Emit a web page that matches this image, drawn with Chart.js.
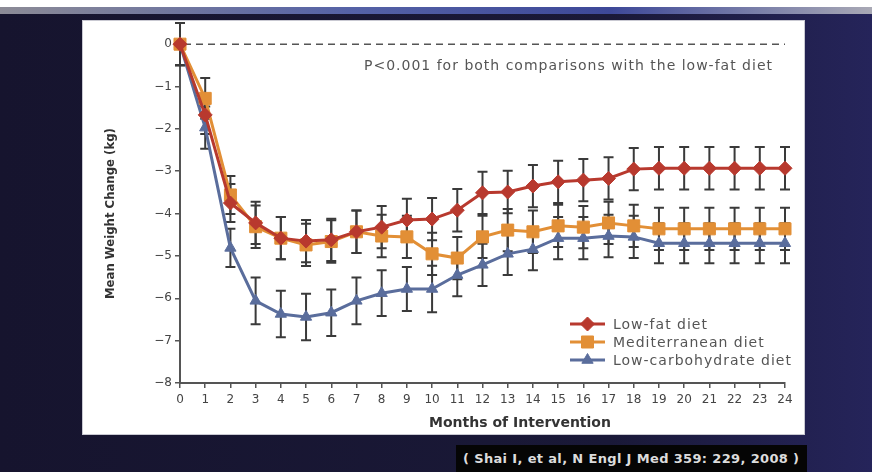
<!DOCTYPE html>
<html>
<head>
<meta charset="utf-8">
<script src="https://cdn.jsdelivr.net/npm/chart.js@4.4.1/dist/chart.umd.min.js"></script>
<style>
  body { margin: 0; width: 872px; height: 472px; overflow: hidden; position: relative;
         background: linear-gradient(90deg, #16142e 0%, #1a1938 70%, #25245a 100%); }
  .top-strip { position: absolute; left: 0; top: 0; width: 872px; height: 7px; background: #fff; }
  .top-bar { position: absolute; left: 0; top: 7px; width: 872px; height: 7px;
             background: linear-gradient(90deg, #8c8b96 0%, #5562a6 40%, #3d4898 70%, #a9a9b5 100%); }
  .panel { position: absolute; left: 82px; top: 20px; width: 723px; height: 415px; background: #fff;
           border: 1px solid #c9c9d2; box-sizing: border-box; }
  .cite { position: absolute; left: 456px; top: 445px; width: 351px; height: 27px; background: #050505;
          color: #dcdcdc; font: bold 13px "DejaVu Sans", sans-serif; letter-spacing: 0.35px; line-height: 27px;
          padding-left: 7px; box-sizing: border-box; white-space: nowrap; }
  #chart { position: absolute; left: 0; top: 0; }
</style>
</head>
<body>
<div class="top-strip"></div>
<div class="top-bar"></div>
<div class="panel"></div>
<div class="cite">( Shai I, et al, N Engl J Med 359: 229, 2008 )</div>
<canvas id="chart" width="872" height="472"></canvas>
<script>
const months = ['0', '1', '2', '3', '4', '5', '6', '7', '8', '9', '10', '11', '12',
                '13', '14', '15', '16', '17', '18', '19', '20', '21', '22', '23', '24'];
const yTicks = [0, -1, -2, -3, -4, -5, -6, -7, -8];

const lowFat = [0, -1.67, -3.75, -4.22, -4.58, -4.65, -4.62, -4.43, -4.32, -4.15, -4.13, -3.92, -3.51,
                -3.49, -3.35, -3.25, -3.21, -3.17, -2.95, -2.93, -2.93, -2.93, -2.93, -2.93, -2.93];
const mediterranean = [0, -1.28, -3.56, -4.31, -4.58, -4.74, -4.66, -4.43, -4.53, -4.55, -4.95, -5.05, -4.55,
                       -4.39, -4.43, -4.29, -4.32, -4.22, -4.29, -4.36, -4.36, -4.36, -4.36, -4.36, -4.36];
const lowCarb = [0, -1.97, -4.81, -6.06, -6.37, -6.44, -6.34, -6.06, -5.88, -5.78, -5.78, -5.45, -5.21,
                 -4.95, -4.84, -4.58, -4.58, -4.53, -4.55, -4.70, -4.70, -4.70, -4.70, -4.70, -4.70];

// error bar half widths (kg)
const lowFatErr = [0.5, 0.45, 0.45, 0.5, 0.5, 0.5, 0.5, 0.5, 0.5, 0.5, 0.5, 0.5, 0.5,
                   0.5, 0.5, 0.5, 0.5, 0.5, 0.5, 0.5, 0.5, 0.5, 0.5, 0.5, 0.5];
const mediterraneanErr = [0.5, 0.48, 0.45, 0.5, 0.5, 0.5, 0.5, 0.5, 0.5, 0.5, 0.5, 0.5, 0.5,
                          0.5, 0.5, 0.5, 0.5, 0.5, 0.5, 0.5, 0.5, 0.5, 0.5, 0.5, 0.5];
const lowCarbErr = [0.5, 0.5, 0.45, 0.55, 0.55, 0.55, 0.55, 0.55, 0.54, 0.52, 0.55, 0.5, 0.5,
                    0.5, 0.5, 0.5, 0.5, 0.5, 0.5, 0.47, 0.47, 0.47, 0.47, 0.47, 0.47];
const seriesErrors = [lowFatErr, mediterraneanErr, lowCarbErr];

const red = '#b8392e';
const orange = '#e28f36';
const blue = '#5a6d9c';
const axisColor = '#555';

const errorBars = {
    id: 'errorBars',
    beforeDatasetsDraw(chart) {
        const ctx = chart.ctx;
        const y = chart.scales.y;
        const area = chart.chartArea;
        ctx.save();
        // dashed zero line
        ctx.strokeStyle = '#555';
        ctx.lineWidth = 1.6;
        ctx.setLineDash([7, 5]);
        ctx.beginPath();
        ctx.moveTo(area.left + 4, y.getPixelForValue(0));
        ctx.lineTo(area.right, y.getPixelForValue(0));
        ctx.stroke();
        ctx.setLineDash([]);

        ctx.strokeStyle = '#3a3a3a';
        ctx.lineWidth = 2;
        chart.data.datasets.forEach(function(ds, i) {
            const meta = chart.getDatasetMeta(i);
            meta.data.forEach(function(pt, j) {
                const e = seriesErrors[i][j];
                const top = y.getPixelForValue(ds.data[j] + e);
                const bot = y.getPixelForValue(ds.data[j] - e);
                ctx.beginPath();
                ctx.moveTo(pt.x, top);
                ctx.lineTo(pt.x, bot);
                ctx.moveTo(pt.x - 5, top);
                ctx.lineTo(pt.x + 5, top);
                ctx.moveTo(pt.x - 5, bot);
                ctx.lineTo(pt.x + 5, bot);
                ctx.stroke();
            });
        });
        ctx.restore();
    }
};

const extras = {
    id: 'extras',
    afterDraw(chart) {
        const ctx = chart.ctx;
        const area = chart.chartArea;
        const y = chart.scales.y;
        ctx.save();

        // p-value note
        ctx.fillStyle = '#555';
        ctx.font = '14px "DejaVu Sans"';
        ctx.letterSpacing = '1px';
        ctx.textAlign = 'right';
        ctx.textBaseline = 'middle';
        ctx.fillText('P<0.001 for both comparisons with the low-fat diet', area.right - 12, y.getPixelForValue(0) + 22);
        ctx.letterSpacing = '0px';

        // x axis title
        ctx.fillStyle = '#333';
        ctx.font = 'bold 14px "DejaVu Sans"';
        ctx.textAlign = 'center';
        ctx.fillText('Months of Intervention', area.left + 340, area.bottom + 40);

        // y axis title, centred on the 0 .. -8 range
        ctx.save();
        ctx.translate(area.left - 69, (y.getPixelForValue(0) + y.getPixelForValue(-8)) / 2);
        ctx.rotate(-Math.PI / 2);
        ctx.font = 'bold 13px "DejaVu Sans Condensed"';
        ctx.fillText('Mean Weight Change (kg)', 0, 0);
        ctx.restore();

        // legend
        ctx.textAlign = 'left';
        ctx.font = '14px "DejaVu Sans"';
        ctx.letterSpacing = '1px';
        chart.data.datasets.forEach(function(ds, i) {
            const ly = area.bottom - 59 + i * 18;
            const lx = area.right - 215;
            ctx.strokeStyle = ds.borderColor;
            ctx.lineWidth = 3;
            ctx.beginPath();
            ctx.moveTo(lx, ly);
            ctx.lineTo(lx + 35, ly);
            ctx.stroke();
            ctx.fillStyle = ds.borderColor;
            ctx.lineWidth = 1;
            Chart.helpers.drawPoint(ctx, {pointStyle: ds.pointStyle, radius: ds.pointRadius, rotation: 0, borderWidth: 1}, lx + 17.5, ly);
            ctx.fillStyle = '#555';
            ctx.fillText(ds.label, lx + 43, ly + 1);
        });
        ctx.restore();
    }
};

const canvas = document.getElementById('chart');

function makeSeries(label, data, color, style, radius) {
    return {
        label: label,
        data: data,
        borderColor: color,
        backgroundColor: color,
        pointBackgroundColor: color,
        pointBorderColor: color,
        pointStyle: style,
        pointRadius: radius,
        pointBorderWidth: 1,
        borderWidth: 3,
        tension: 0
    };
}

new Chart(canvas, {
    type: 'line',
    data: {
        labels: months,
        datasets: [
            makeSeries('Low-fat diet', lowFat, red, 'rectRot', 7),
            makeSeries('Mediterranean diet', mediterranean, orange, 'rect', 8.5),
            makeSeries('Low-carbohydrate diet', lowCarb, blue, 'triangle', 6.5)
        ]
    },
    options: {
        responsive: false,
        animation: false,
        layout: { padding: { left: 100, right: 87, top: 23, bottom: 0 } },
        plugins: { legend: { display: false }, tooltip: { enabled: false } },
        scales: {
            x: {
                grid: { drawOnChartArea: false, color: axisColor, tickLength: 5, lineWidth: 1.5 },
                border: { color: axisColor, width: 2 },
                ticks: { color: '#444', font: { family: 'DejaVu Sans', size: 12 }, padding: 5, maxRotation: 0, autoSkip: false },
                afterFit(scale) { scale.height = 89; }
            },
            y: {
                min: -8,
                max: 0.5,
                afterBuildTicks(scale) { scale.ticks = yTicks.map(v => ({ value: v })); },
                grid: { drawOnChartArea: false, color: axisColor, tickLength: 5, lineWidth: 1.5 },
                border: { color: axisColor, width: 2 },
                ticks: {
                    color: '#444',
                    font: { family: 'DejaVu Sans', size: 12 },
                    padding: 3,
                    callback: v => v === 0 ? '0' : '\u2212' + Math.abs(v)
                },
                afterFit(scale) { scale.width = 80; }
            }
        }
    },
    plugins: [errorBars, extras]
});
</script>
</body>
</html>
